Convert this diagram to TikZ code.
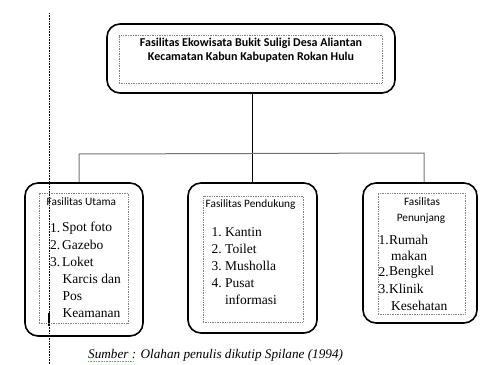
\documentclass[tikz,border=0pt]{standalone}
\usepackage{fontspec}
\setmainfont{Liberation Serif}
\newfontfamily\calib{Carlito}
\begin{document}
\begin{tikzpicture}[x=1pt,y=-1pt,
 box/.style={draw, line width=1.6pt, rounded corners=13pt, inner sep=0},
 innerbox/.style={draw=gray, densely dotted, line width=0.7pt, inner sep=0},
 item/.style={anchor=west, inner sep=0, font=\fontsize{13.5}{13.5}\selectfont},
 head/.style={inner sep=0, font=\calib\fontsize{11.3}{11.3}\selectfont},
 link/.style={draw, line width=1pt},
 glink/.style={draw=black!55, line width=1pt}]
\useasboundingbox (0,0) rectangle (487,364);
% left margin dotted line
\draw[densely dotted, line width=0.6pt] (49,13) coordinate (m1) -- (49,364) coordinate (m2);
\draw[line width=1.4pt] (49,313) coordinate (c1) -- (49,326) coordinate (c2);
% top box
\node[box, minimum width=288, minimum height=69] (top) at (251,58.5) {};
\node[innerbox, minimum width=263, minimum height=48] (topin) at (250.5,59) {};
\node[inner sep=0, align=center, font=\calib\bfseries\fontsize{12}{14.5}\selectfont] (title) at (251,50)
 {Fasilitas Ekowisata Bukit Suligi Desa Aliantan\\Kecamatan Kabun Kabupaten Rokan Hulu};
% lower boxes
\node[box, minimum width=118, minimum height=153] (b1) at (84,259.5) {};
\node[innerbox, minimum width=89, minimum height=130] (i1) at (83.5,258) {};
\node[box, minimum width=129, minimum height=150] (b2) at (252.5,258) {};
\node[innerbox, minimum width=100, minimum height=126] (i2) at (253,259) {};
\node[box, minimum width=114, minimum height=140] (b3) at (420,253) {};
\node[innerbox, minimum width=87, minimum height=121] (i3) at (421.5,253.5) {};
% connectors
\coordinate (jl) at (79,154);
\coordinate (jr) at (424,153);
\path[link] (top.south -| b2.north) -- (b2.north);
\path[glink] (jl |- b1.north) -- (jl) -- (jr) -- (jr |- b3.north);
% box 1 text
\node[head, anchor=west] (h1) at (46.5,202) {Fasilitas Utama};
\node[item] (a1n) at (50,228) {1.};
\node[item] (a1) at (62,228) {Spot foto};
\node[item] (a2n) at (50,245) {2.};
\node[item] (a2) at (62,245) {Gazebo};
\node[item] (a3n) at (50,262) {3.};
\node[item] (a3) at (62,262) {Loket};
\node[item] (a4) at (62.5,279) {Karcis dan};
\node[item] (a5) at (62.5,296) {Pos};
\node[item] (a6) at (62.5,313) {Keamanan};
% box 2 text
\node[head, anchor=west] (h2) at (205.5,205) {Fasilitas Pendukung};
\node[item] (p1n) at (211.5,232) {1.};
\node[item] (p1) at (225,232) {Kantin};
\node[item] (p2n) at (211.5,249) {2.};
\node[item] (p2) at (225,249) {Toilet};
\node[item] (p3n) at (211.5,266) {3.};
\node[item] (p3) at (225,266) {Musholla};
\node[item] (p4n) at (211.5,283) {4.};
\node[item] (p4) at (225,283) {Pusat};
\node[item] (p5) at (225,300) {informasi};
% box 3 text
\node[head] (h3a) at (422,202) {Fasilitas};
\node[head] (h3b) at (421,219) {Penunjang};
\node[item] (r1n) at (378.5,240) {1.};
\node[item] (r1) at (389,240) {Rumah};
\node[item] (r2) at (391,256) {makan};
\node[item] (r3n) at (378.5,272) {2.};
\node[item] (r3) at (389,272) {Bengkel};
\node[item] (r4n) at (378.5,289) {3.};
\node[item] (r4) at (389,289) {Klinik};
\node[item] (r5) at (391,306) {Kesehatan};
% caption
\node[anchor=west, inner sep=0, font=\itshape\fontsize{13.2}{13.2}\selectfont] (cap) at (88,355)
 {Sumber : Olahan penulis dikutip Spilane (1994)};
\draw[green!50!black!60, densely dotted, line width=0.6pt] (88,361.5) coordinate (u1) -- (134,361.5) coordinate (u2);
\end{tikzpicture}
\end{document}
